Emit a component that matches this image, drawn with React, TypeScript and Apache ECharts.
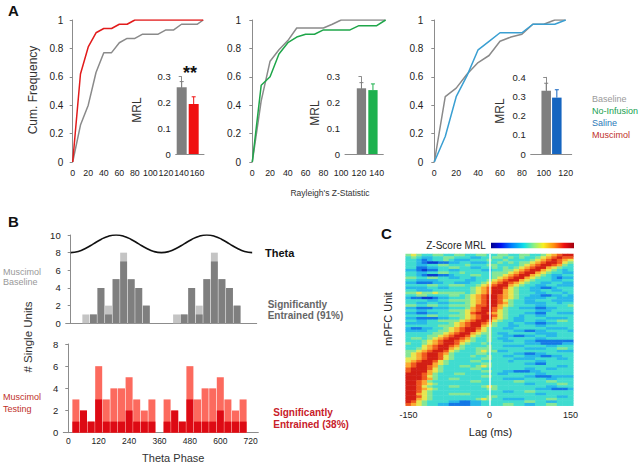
import React, { useEffect, useRef } from "react";
import * as echarts from "echarts";

const FONT = '"Liberation Sans", Arial, Helvetica, sans-serif';

// ---------- Panel A : cumulative frequency of Rayleigh's Z ----------
const zStat1 = [0, 10, 20, 30, 40, 50, 60, 70, 80, 90, 100, 110, 120, 130, 140, 150, 160, 168];
const baseline1 = [0, 0.26, 0.4, 0.63, 0.77, 0.77, 0.84, 0.87, 0.87, 0.9, 0.9, 0.9, 0.93, 0.93, 0.97, 0.97, 0.97, 1];
const muscimol1 = [0, 0.62, 0.81, 0.91, 0.94, 0.94, 0.97, 0.97, 1, 1, 1, 1, 1, 1, 1, 1, 1, 1];
const zTicks1 = [0, 20, 40, 60, 80, 100, 120, 140, 160];

const zStat2 = [0, 10, 20, 30, 40, 50, 60, 70, 80, 90, 100, 110, 120, 130, 140, 150];
const baseline2 = [0, 0.43, 0.71, 0.79, 0.855, 0.944, 0.944, 0.944, 0.944, 0.97, 1, 1, 1, 1, 1, 1];
const noInfusion2 = [0, 0.54, 0.6, 0.76, 0.84, 0.88, 0.9, 0.9, 0.93, 0.93, 0.93, 0.93, 0.96, 0.96, 0.96, 1];
const zTicks2 = [0, 20, 40, 60, 80, 100, 120, 140];

const zStat3 = [0, 10, 20, 30, 40, 50, 60, 70, 80, 90, 100, 110, 120];
const baseline3 = [0, 0.46, 0.52, 0.62, 0.7, 0.75, 0.85, 0.88, 0.9, 0.97, 0.97, 1, 1];
const saline3 = [0, 0.18, 0.46, 0.61, 0.79, 0.85, 0.91, 0.91, 0.91, 0.97, 0.97, 0.97, 1];
const zTicks3 = [0, 20, 40, 60, 80, 100, 120];

// inset MRL bars (mean, sem) : [baseline, condition]
const mrl1 = [0.259, 0.194];
const mrlErr1 = [0.022, 0.028];
const mrl2 = [0.255, 0.248];
const mrlErr2 = [0.022, 0.024];
const mrl3 = [0.33, 0.294];
const mrlErr3 = [0.039, 0.041];

const legendLabels = ["Baseline", "No-Infusion", "Saline", "Muscimol"];

// ---------- Panel B : phase histograms ----------
const baselinePhase = [60, 90, 120, 150, 180, 210, 240, 270, 300];
const baselineTotal = [1, 1, 4, 2, 5, 8, 5, 4, 2];
const baselineSig = [0, 1, 4, 1, 5, 7, 5, 4, 2];
const testingPhase = [30, 60, 90, 120, 150, 180, 210, 240, 270, 300, 330];
const testingTotal = [3, 2, 1, 6, 3, 4, 4, 5, 3, 2, 3];
const testingSig = [1, 2, 1, 3, 1, 1, 1, 2, 1, 1, 1];
const thetaPhase = [0, 30, 60, 90, 120, 150, 180, 210, 240, 270, 300, 330];
const thetaValue = [8, 8.13, 8.5, 9, 9.5, 9.87, 10, 9.87, 9.5, 9, 8.5, 8.13];
const phaseTicks = [0, 120, 240, 360, 480, 600, 720];

// ---------- Panel C : Z-scored MRL by lag (levels 0..9), rows top->bottom ----------
const lagMs = [-150, -140, -130, -120, -110, -100, -90, -80, -70, -60, -50, -40, -30, -20, -10, 0,
  10, 20, 30, 40, 50, 60, 70, 80, 90, 100, 110, 120, 130, 140, 150];
const mrlRowsRaw = [
  "5654455445 5445544554 4554456789 9",
  "4543344554 4433445545 4544567898 8",
  "4432344543 3344454454 4445678987 6",
  "4432112233 4433344545 4556789986 5",
  "4433445544 4544455444 4567899875 4",
  "4422334455 4433445454 5678997654 4",
  "3321224433 4444334455 6789976543 4",
  "4433445544 5444445556 7899765443 3",
  "4432112234 4455445567 8997654334 4",
  "5544554433 4434445678 9976544323 3",
  "4433334444 4334456789 9765444334 4",
  "3322233443 3344567898 7654433443 3",
  "4444554455 5445678997 6544334433 3",
  "3333443344 4456789986 5443322344 4",
  "4433344444 4456789976 5443344334 4",
  "5565565555 5456789976 5444334443 4",
  "4455444455 4567899876 5443322334 3",
  "3221123344 4567899876 5433334433 3",
  "4444334455 5567899865 4433444333 3",
  "4433443344 4567899875 4433334434 4",
  "5544554455 5568899765 4444334444 5",
  "3322233344 4578998754 4333223344 4",
  "4433444455 5678998654 4444333444 4",
  "3322334444 5689987654 4433224433 3",
  "4444554455 5678998654 4344334444 4",
  "3322223344 5678997654 3344443333 4",
  "4433445555 6789986544 3344334455 4",
  "3333444456 7899875443 4433223344 4",
  "4444445556 7899765443 3444334444 4",
  "3223344567 8998654433 4444443333 4",
  "3333445567 8997654444 3322334444 3",
  "4444455678 9976554334 4444333344 4",
  "4444556789 9865454433 2233443344 4",
  "4554567899 8754454334 4444334444 4",
  "4445678998 7654454433 4433222222 2",
  "5445678998 6544544444 4433322223 3",
  "4446789987 5444454433 3344443344 4",
  "4456789976 5445554444 4433334455 4",
  "5567899865 4445655334 4444444433 3",
  "5678998754 4445544444 3322334444 4",
  "5678998654 4454454433 4433322334 4",
  "6678998654 4444554444 3333444433 4",
  "6789986544 4455444443 4444334444 4",
  "7899976544 4444554444 4433224444 4",
  "7899875444 5545654444 4444444433 4",
  "8999865444 4455444444 4433443344 4",
  "8999765444 4444554433 2223344444 4",
  "9998754445 5444444334 4444334444 4",
  "9998654444 4444554444 4433222333 3",
  "9998754455 4444444433 3344443344 4",
  "9987544444 4455444444 5544445544 4",
  "9987654444 4444444444 4433444455 4",
  "9986544455 4444565444 4444443344 4",
  "9987654444 4444455444 4444333222 3",
  "9986544444 4444444433 4455444444 4",
  "9976544455 5544444444 4444334444 4",
  "9986544444 4444455444 4444444433 4",
  "9976544444 4445654433 3344445544 4",
  "9865444433 2233444444 4455443344 4",
  "8765443322 2233444455 4433445544 4",
];

const C = {
  grayLine: "#8a8a8a",
  redLine: "#e21b1b",
  greenLine: "#1fa64a",
  blueLine: "#3a9fd2",
  grayBar: "#7f7f7f",
  redBar: "#f01010",
  greenBar: "#1db14e",
  blueBar: "#1565c0",
  axis: "#8c8c8c",
  label: "#222222",
};
const heatColors = ["#0a148c", "#0a3cd2", "#1478e6", "#28b8e8", "#40dcd0", "#86e696", "#e6e650", "#faaa32", "#f05a1e", "#d21e14"];

const zip = (xs: number[], ys: number[]) => xs.map((x, i) => [x, ys[i]]);

function mainX(gi: number, min: number, max: number, ticks: number[]) {
  return {
    type: "value", gridIndex: gi, min, max,
    axisLine: { show: false }, axisTick: { show: false }, splitLine: { show: false },
    axisLabel: {
      customValues: ticks, fontSize: 8.8, color: C.label, margin: 6, fontFamily: FONT,
      showMinLabel: true, showMaxLabel: true, hideOverlap: false,
    },
  };
}
function mainY(gi: number) {
  return {
    type: "value", gridIndex: gi, min: 0, max: 1, interval: 0.2,
    axisLine: { show: true, lineStyle: { color: C.axis, width: 1 } },
    axisTick: { show: true, length: 3, lineStyle: { color: C.axis } },
    splitLine: { show: false },
    axisLabel: { fontSize: 10, color: C.label, margin: 5, fontFamily: FONT },
  };
}
function insetX(gi: number, min: number, max: number) {
  return {
    type: "value", gridIndex: gi, min, max,
    axisLine: { show: true, lineStyle: { color: C.axis, width: 1 } },
    axisTick: { show: false }, axisLabel: { show: false }, splitLine: { show: false },
  };
}
function insetY(gi: number, max: number) {
  return {
    type: "value", gridIndex: gi, min: 0, max, interval: 0.1,
    axisLine: { show: true, lineStyle: { color: C.axis, width: 1 } },
    axisTick: { show: true, length: 3, lineStyle: { color: C.axis } },
    splitLine: { show: false },
    axisLabel: { fontSize: 9.5, color: C.label, margin: 5, fontFamily: FONT },
  };
}

function errRender(colors: string[]) {
  return (params: any, api: any) => {
    const x = api.value(0), y = api.value(1), e = api.value(2);
    const p0 = api.coord([x, y]);
    const p1 = api.coord([x, y + e]);
    const col = colors[params.dataIndex];
    return {
      type: "group",
      children: [
        { type: "line", shape: { x1: p0[0], y1: p0[1], x2: p1[0], y2: p1[1] }, style: { stroke: col, lineWidth: 1 } },
        { type: "line", shape: { x1: p1[0] - 2, y1: p1[1], x2: p1[0] + 2, y2: p1[1] }, style: { stroke: col, lineWidth: 1 } },
      ],
    };
  };
}

function txt(x: number, y: number, text: string, o: any = {}) {
  return {
    type: "text", x, y, rotation: o.rotation || 0, silent: true,
    style: {
      text, fontFamily: FONT, fontSize: o.size || 10, fontWeight: o.bold ? "bold" : "normal",
      fill: o.color || C.label, align: o.align || "left", verticalAlign: "middle",
    },
  };
}

export default function App() {
  const ref = useRef<HTMLDivElement>(null);

  useEffect(() => {
    if (!ref.current) return;
    const chart = echarts.init(ref.current, undefined, { renderer: "svg" });

    const grid = (left: number, top: number, width: number, height: number) =>
      ({ left, top, width, height, containLabel: false, outerBoundsMode: "none" });

    const cycles = (phases: number[], vals: number[]) => {
      const out: number[][] = [];
      [0, 360].forEach((off) => phases.forEach((p, i) => out.push([p + off, vals[i]])));
      return out;
    };
    const thetaPts: number[][] = [];
    [0, 360].forEach((off) => thetaPhase.forEach((p, i) => thetaPts.push([p + off, thetaValue[i]])));
    thetaPts.push([720, thetaValue[0]]);

    const mrlRows = mrlRowsRaw.map((s) => s.replace(/ /g, ""));
    const heatData: number[][] = [];
    mrlRows.forEach((row, r) => {
      for (let i = 0; i < row.length; i++) heatData.push([i, r, Number(row[i])]);
    });

    const colors1 = [C.grayBar, C.redBar];
    const colors2 = [C.grayBar, C.greenBar];
    const colors3 = [C.grayBar, C.blueBar];

    const barSeries = (gi: number, vals: number[], cols: string[], w: number) => ({
      type: "bar", xAxisIndex: gi, yAxisIndex: gi, barWidth: w,
      data: vals.map((v, i) => ({ value: [i, v], itemStyle: { color: cols[i] } })),
      z: 3,
    });
    const errSeries = (gi: number, vals: number[], errs: number[], cols: string[]) => ({
      type: "custom", xAxisIndex: gi, yAxisIndex: gi,
      data: vals.map((v, i) => [i, v, errs[i]]),
      renderItem: errRender(cols), z: 4,
    });
    const line = (gi: number, xs: number[], ys: number[], color: string, z = 2) => ({
      type: "line", xAxisIndex: gi, yAxisIndex: gi, data: zip(xs, ys), symbol: "none",
      lineStyle: { color, width: 1.5 }, itemStyle: { color }, z,
    });

    const option: any = {
      animation: false,
      textStyle: { fontFamily: FONT },
      grid: [
        grid(68.3, 20, 136.5, 142),
        grid(246, 20, 139.6, 142),
        grid(428.3, 20, 137.4, 142),
        grid(175.7, 76.7, 28.3, 77.3),
        grid(345, 76.7, 38.3, 77.3),
        grid(530.7, 77.3, 41, 76.7),
        grid(65.7, 235, 191, 88.3),
        grid(63.3, 344, 195, 88.7),
        grid(405.7, 254, 167.6, 151.7),
      ],
      xAxis: [
        mainX(0, -5.66, 170, zTicks1),
        mainX(1, -7.09, 150, zTicks2),
        mainX(2, -5.48, 120, zTicks3),
        insetX(3, -0.5, 1.86),
        insetX(4, -1.43, 1.9),
        insetX(5, -1.46, 2.4),
        {
          type: "value", gridIndex: 6, min: -19.8, max: 738,
          axisLine: { show: true, lineStyle: { color: C.axis } }, axisTick: { show: false },
          axisLabel: { show: false }, splitLine: { show: false },
        },
        {
          type: "value", gridIndex: 7, min: -19.7, max: 750,
          axisLine: { show: true, lineStyle: { color: C.axis } }, axisTick: { show: false },
          axisLabel: {
            customValues: phaseTicks, fontSize: 8.5, color: C.label, margin: 4, fontFamily: FONT,
            showMinLabel: true, showMaxLabel: true, hideOverlap: false,
          },
          splitLine: { show: false },
        },
        {
          type: "category", gridIndex: 8, data: lagMs.map(String),
          axisLine: { show: false }, axisTick: { show: false }, splitLine: { show: false },
          axisLabel: { interval: 14, fontSize: 9, color: C.label, margin: 5, fontFamily: FONT },
        },
      ],
      yAxis: [
        mainY(0), mainY(1), mainY(2),
        insetY(3, 0.3), insetY(4, 0.3), insetY(5, 0.4),
        {
          type: "value", gridIndex: 6, min: 0, max: 10, interval: 2,
          axisLine: { show: true, lineStyle: { color: C.axis } },
          axisTick: { show: true, length: 3, lineStyle: { color: C.axis } },
          splitLine: { show: false },
          axisLabel: { fontSize: 9.5, color: C.label, margin: 5, fontFamily: FONT },
        },
        {
          type: "value", gridIndex: 7, min: 0, max: 8, interval: 2,
          axisLine: { show: true, lineStyle: { color: C.axis } },
          axisTick: { show: true, length: 3, lineStyle: { color: C.axis } },
          splitLine: { show: false },
          axisLabel: { fontSize: 9.5, color: C.label, margin: 5, fontFamily: FONT },
        },
        {
          type: "category", gridIndex: 8, inverse: true, data: mrlRows.map((_, i) => String(i)),
          axisLine: { show: false }, axisTick: { show: false }, axisLabel: { show: false }, splitLine: { show: false },
        },
      ],
      visualMap: [
        { type: "continuous", show: false, seriesIndex: 17, min: 0, max: 9, dimension: 2, inRange: { color: heatColors } },
      ],
      series: [
        line(0, zStat1, baseline1, C.grayLine),
        line(0, zStat1, muscimol1, C.redLine, 3),
        line(1, zStat2, baseline2, C.grayLine),
        line(1, zStat2, noInfusion2, C.greenLine, 3),
        line(2, zStat3, baseline3, C.grayLine),
        line(2, zStat3, saline3, C.blueLine, 3),
        barSeries(3, mrl1, colors1, 10),
        errSeries(3, mrl1, mrlErr1, colors1),
        barSeries(4, mrl2, colors2, 9.3),
        errSeries(4, mrl2, mrlErr2, colors2),
        barSeries(5, mrl3, colors3, 9.5),
        errSeries(5, mrl3, mrlErr3, colors3),
        {
          type: "bar", xAxisIndex: 6, yAxisIndex: 6, barWidth: 6.9, barGap: "-100%",
          data: cycles(baselinePhase, baselineTotal), itemStyle: { color: "#c4c4c4" },
        },
        {
          type: "bar", xAxisIndex: 6, yAxisIndex: 6, barWidth: 6.9, barGap: "-100%",
          data: cycles(baselinePhase, baselineSig), itemStyle: { color: "#7f7f7f" },
        },
        {
          type: "line", xAxisIndex: 6, yAxisIndex: 6, data: thetaPts, smooth: true, symbol: "none",
          lineStyle: { color: "#111", width: 1.6 }, z: 5,
        },
        {
          type: "bar", xAxisIndex: 7, yAxisIndex: 7, barWidth: 7, barGap: "-100%",
          data: cycles(testingPhase, testingTotal), itemStyle: { color: "#fc6a5e" },
        },
        {
          type: "bar", xAxisIndex: 7, yAxisIndex: 7, barWidth: 7, barGap: "-100%",
          data: cycles(testingPhase, testingSig), itemStyle: { color: "#dd0a14" },
        },
        {
          type: "heatmap", xAxisIndex: 8, yAxisIndex: 8, data: heatData, progressive: 0,
          emphasis: { disabled: true },
          markLine: {
            silent: true, symbol: "none", label: { show: false },
            lineStyle: { color: "#ffffff", width: 1.5, type: "solid" },
            data: [{ xAxis: "0" }],
          },
        },
      ],
      graphic: [
        txt(8, 10.5, "A", { size: 15, bold: true, color: "#111" }),
        txt(8, 221, "B", { size: 15, bold: true, color: "#111" }),
        txt(381, 233.7, "C", { size: 15, bold: true, color: "#111" }),
        txt(33, 90, "Cum. Frequency", { size: 12, align: "center", rotation: Math.PI / 2, color: "#333" }),
        txt(136.7, 110, "MRL", { size: 12, align: "center", rotation: Math.PI / 2, color: "#333" }),
        txt(315, 113, "MRL", { size: 12, align: "center", rotation: Math.PI / 2, color: "#333" }),
        txt(500, 111, "MRL", { size: 12, align: "center", rotation: Math.PI / 2, color: "#333" }),
        txt(190, 73, "**", { size: 18, bold: true, align: "center", color: "#111" }),
        txt(330, 193, "Rayleigh's Z-Statistic", { size: 8.5, align: "center", color: "#333" }),
        txt(592, 99, legendLabels[0], { size: 9, color: "#9a9a9a" }),
        txt(592, 111, legendLabels[1], { size: 9, color: "#20a050" }),
        txt(592, 122.5, legendLabels[2], { size: 9, color: "#2a78b8" }),
        txt(592, 135, legendLabels[3], { size: 9, color: "#c0302a" }),
        txt(265, 253.3, "Theta", { size: 11, bold: true, color: "#111" }),
        txt(267.7, 304.3, "Significantly", { size: 10, bold: true, color: "#666" }),
        txt(267.7, 315.7, "Entrained (91%)", { size: 10, bold: true, color: "#666" }),
        txt(3, 271.7, "Muscimol", { size: 9, color: "#999" }),
        txt(3, 282.3, "Baseline", { size: 9, color: "#999" }),
        txt(27.5, 337, "# Single Units", { size: 11.5, align: "center", rotation: Math.PI / 2, color: "#333" }),
        txt(3, 397.3, "Muscimol", { size: 9, color: "#c0302a" }),
        txt(3, 408.7, "Testing", { size: 9, color: "#c0302a" }),
        txt(273.3, 412.7, "Significantly", { size: 10, bold: true, color: "#c8202a" }),
        txt(273.3, 424.3, "Entrained (38%)", { size: 10, bold: true, color: "#c8202a" }),
        txt(173.3, 458, "Theta Phase", { size: 11, align: "center", color: "#333" }),
        txt(485.7, 245.7, "Z-Score MRL", { size: 10, align: "right", color: "#222" }),
        {
          type: "rect", silent: true,
          shape: { x: 491, y: 242.7, width: 83, height: 5.6 },
          style: {
            fill: {
              type: "linear", x: 0, y: 0, x2: 1, y2: 0,
              colorStops: [
                { offset: 0, color: "#00008c" },
                { offset: 0.12, color: "#0010f0" },
                { offset: 0.25, color: "#0080ff" },
                { offset: 0.4, color: "#10e0e8" },
                { offset: 0.52, color: "#90f080" },
                { offset: 0.63, color: "#f8f020" },
                { offset: 0.76, color: "#ff8c10" },
                { offset: 0.88, color: "#f01010" },
                { offset: 1, color: "#a00010" },
              ],
            },
          },
        },
        txt(490.5, 432.3, "Lag (ms)", { size: 11, align: "center", color: "#222" }),
        txt(388.3, 319, "mPFC Unit", { size: 11, align: "center", rotation: Math.PI / 2, color: "#222" }),
      ],
    };

    chart.setOption(option);
    return () => chart.dispose();
  }, []);

  return (
    <div
      ref={ref}
      style={{ position: "absolute", left: 0, top: 0, width: 640, height: 466, background: "#fff" }}
    />
  );
}
